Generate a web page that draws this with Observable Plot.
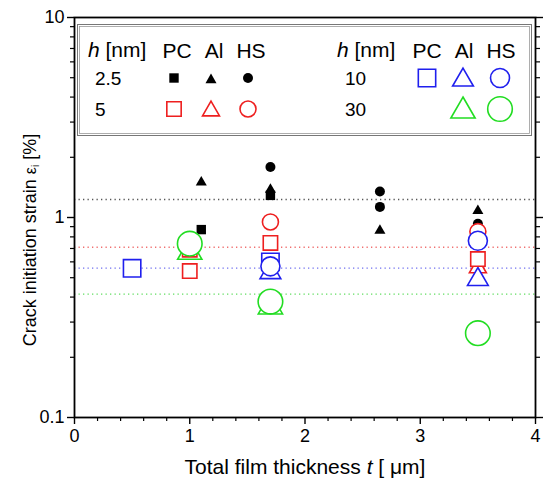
<!DOCTYPE html>
<html><head><meta charset="utf-8">
<script src="https://cdn.jsdelivr.net/npm/d3@7"></script>
<script src="https://cdn.jsdelivr.net/npm/@observablehq/plot@0.6"></script>
<style>body{margin:0;background:#fff}#chart{width:544px;height:483px}</style>
</head><body><div id="chart"></div>
<script>
// ---- data ----
const pointH = [2.5,2.5, 2.5,2.5,2.5,2.5, 2.5,2.5,2.5,2.5, 5,5,5,5, 5, 5,5, 10,10, 10,10, 10,10, 30,30, 30,30,30];
const pointType = ["PC","PC","Al","Al","Al","Al","HS","HS","HS","HS","PC","PC","PC","PC","Al","HS","HS","PC","PC","Al","Al","HS","HS","Al","Al","HS","HS","HS"];
const pointT = [1.1,1.7, 1.1,1.7,2.65,3.5, 1.7,2.65,2.65,3.5, 1.0,1.0,1.7,3.5, 3.5, 1.7,3.5, 0.5,1.7, 1.7,3.5, 1.7,3.5, 1.0,1.7, 1.0,1.7,3.5];
const pointStrain = [0.87,1.29, 1.50,1.38,0.86,1.08, 1.79,1.35,1.13,0.93, 0.54,0.69,0.746,0.62, 0.56, 0.95,0.85, 0.557,0.60, 0.53,0.49, 0.57,0.765, 0.67,0.357, 0.74,0.38,0.264];
const refH = [2.5, 5, 10, 30];
const refStrain = [1.23, 0.71, 0.558, 0.414];
const xTicks = [0, 1, 2, 3, 4];
const yTicks = [0.1, 1, 10];
const legendH = ["2.5", "5", "10", "30"];
const legendTypes = ["PC", "Al", "HS"];

// ---- styles ----
const colorOf = {2.5: "#000000", 5: "#ee1f1f", 10: "#1f1fee", 30: "#22dd22"};
const refColor = {2.5: "#555555", 5: "#f07070", 10: "#7070f0", 30: "#60dd60"};
const symbolOf = {PC: "square", Al: "triangle", HS: "circle"};
const rOf = {
  2.5: {PC: 5.3, Al: 4.1, HS: 5},
  5: {PC: 8.1, Al: 6.3, HS: 8},
  10: {PC: 9.8, Al: 7.7, HS: 9.5},
  30: {PC: 10.5, Al: 9, HS: 12.3}
};
const typeOrder = {Al: 0, PC: 1, HS: 2};

const points = pointT.map((t, i) => ({t, e: pointStrain[i], h: pointH[i], type: pointType[i]}))
  .sort((a, b) => (typeOrder[a.type] - typeOrder[b.type]) || (a.h - b.h));
const refs = refStrain.map((e, i) => ({e, h: refH[i]}));
const minorX = d3.range(0, 4.01, 0.2).map(v => +v.toFixed(1)).filter(v => !Number.isInteger(v));
const minorY = [2,3,4,5,6,7,8,9].flatMap(k => [k * 0.1, k]);

const font = "Liberation Sans, Arial, Helvetica, sans-serif";

const plot = Plot.plot({
  width: 544, height: 483,
  marginLeft: 74, marginRight: 9, marginTop: 17, marginBottom: 66,
  style: {fontFamily: font, fontSize: "18px", color: "#000", background: "#fff"},
  x: {domain: [0, 4]},
  y: {type: "log", domain: [0.1, 10]},
  r: {type: "identity"},
  marks: [
    Plot.ruleY(refs, {y: "e", stroke: d => refColor[d.h], strokeWidth: 1.3, strokeDasharray: "1.3,3.2"}),
    Plot.dot(points, {
      x: "t", y: "e",
      symbol: d => symbolOf[d.type],
      r: d => rOf[d.h][d.type],
      sort: null,
      fill: d => d.h === 2.5 ? "#000" : "#fff",
      stroke: d => d.h === 2.5 ? "none" : colorOf[d.h],
      strokeWidth: 1.6
    }),
    Plot.axisX(xTicks, {tickSize: 7, tickPadding: 5, strokeWidth: 1.4, fontSize: 18, label: null, tickFormat: d => String(d)}),
    Plot.axisX(minorX, {tickSize: 4, strokeWidth: 1.2, text: null, label: null}),
    Plot.axisY(yTicks, {tickSize: 7, tickPadding: 3, strokeWidth: 1.4, fontSize: 18, label: null, tickFormat: d => String(d)}),
    Plot.axisY(minorY, {tickSize: 4, strokeWidth: 1.2, text: null, label: null}),
    Plot.axisY(yTicks, {anchor: "right", tickSize: 7, strokeWidth: 1.4, text: null, label: null}),
    Plot.axisY(minorY, {anchor: "right", tickSize: 4, strokeWidth: 1.2, text: null, label: null}),
    Plot.frame({stroke: "#000", strokeWidth: 1.8})
  ]
});
document.getElementById("chart").appendChild(plot);

// ---- axis titles and legend (text + key) ----
const svg = d3.select(plot);
const g = svg.append("g").attr("font-family", font).attr("fill", "#000").attr("text-anchor", "start");

// y title
const yt = g.append("text").attr("transform", "translate(36,240) rotate(-90)")
  .attr("text-anchor", "middle").style("font-size", "18px");
yt.append("tspan").text("Crack initiation strain ");
yt.append("tspan").text("ε").style("font-size", "16px");
yt.append("tspan").text("i").style("font-size", "10px").attr("dy", 3);
yt.append("tspan").text(" [%]").attr("dy", -3);

// x title
const xt = g.append("text").attr("x", 305).attr("y", 474).attr("text-anchor", "middle").style("font-size", "21px");
xt.append("tspan").text("Total film thickness ");
xt.append("tspan").text("t").attr("font-style", "italic");
xt.append("tspan").text(" [ μm]");

// legend box (double border)
g.append("rect").attr("x", 77.5).attr("y", 24.5).attr("width", 454).attr("height", 111)
  .attr("fill", "#fff").attr("stroke", "#777").attr("stroke-width", 1);
g.append("rect").attr("x", 79.5).attr("y", 26.5).attr("width", 450).attr("height", 107)
  .attr("fill", "none").attr("stroke", "#999").attr("stroke-width", 0.8);

const colX = [[174, 211, 248], [427, 463, 500]];
const headX = [[177, 214, 251], [427, 464, 501]];
const hLabelX = [88, 337];
const numX = [95, 345];
const rowY = [78, 109];
[0, 1].forEach(c => {
  const ht = g.append("text").attr("x", hLabelX[c]).attr("y", 57).attr("text-anchor", "start").style("font-size", "21px");
  ht.append("tspan").text("h").attr("font-style", "italic");
  ht.append("tspan").text(" [nm]");
  legendTypes.forEach((tp, j) => {
    g.append("text").attr("x", headX[c][j]).attr("y", 58).attr("text-anchor", "middle")
      .style("font-size", "21px").text(tp);
  });
});
legendH.forEach((hs, k) => {
  const c = k < 2 ? 0 : 1, row = k % 2;
  const h = +hs;
  g.append("text").attr("x", numX[c]).attr("y", rowY[row] + 7).attr("text-anchor", "start").style("font-size", "19px").text(hs);
  legendTypes.forEach((tp, j) => {
    if (h === 30 && tp === "PC") return;
    const r = rOf[h][tp];
    const sym = d3.symbol().type({square: d3.symbolSquare, triangle: d3.symbolTriangle, circle: d3.symbolCircle}[symbolOf[tp]]).size(Math.PI * r * r);
    g.append("path").attr("d", sym())
      .attr("transform", `translate(${colX[c][j]},${rowY[row] + (tp === "Al" ? 2 : 0)})`)
      .attr("fill", h === 2.5 ? "#000" : "#fff")
      .attr("stroke", h === 2.5 ? "none" : colorOf[h]).attr("stroke-width", 1.6);
  });
});
</script>
</body></html>
